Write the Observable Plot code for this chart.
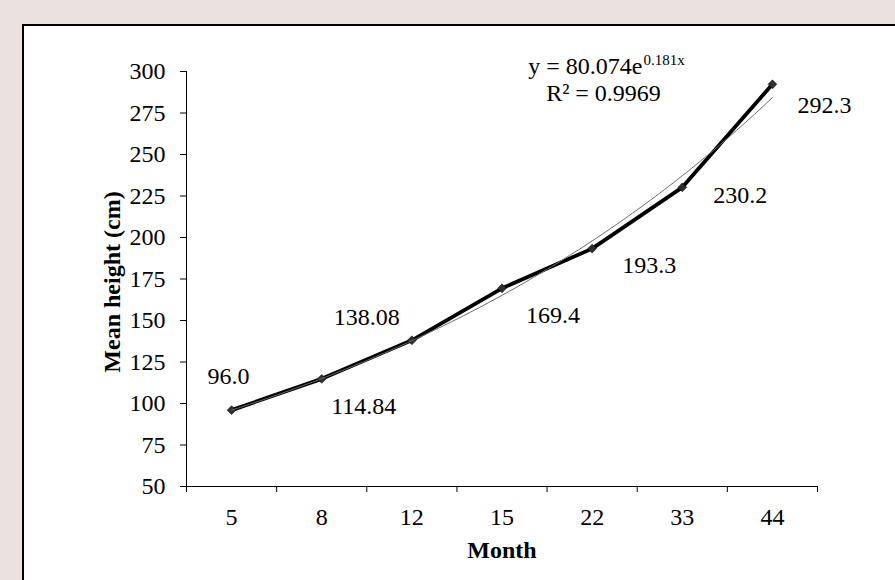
<!DOCTYPE html>
<html>
<head>
<meta charset="utf-8">
<script src="https://cdn.jsdelivr.net/npm/d3@7"></script>
<script src="https://cdn.jsdelivr.net/npm/@observablehq/plot@0.6"></script>
<style>
  html, body { margin: 0; padding: 0; width: 895px; height: 580px; overflow: hidden; background: #ece1e1; }
  #panel { position: absolute; left: 22px; top: 24px; width: 900px; height: 600px; background: #fff; border: 2px solid #000; }
  #chart { position: absolute; left: 0; top: 0; }
</style>
</head>
<body>
<div id="panel"></div>
<div id="chart"></div>
<script>
// Data
const months = ["5", "8", "12", "15", "22", "33", "44"];
const heights = [96.0, 114.84, 138.08, 169.4, 193.3, 230.2, 292.3];
const valueLabels = ["96.0", "114.84", "138.08", "169.4", "193.3", "230.2", "292.3"];
const yTicks = [50, 75, 100, 125, 150, 175, 200, 225, 250, 275, 300];
// Exponential trendline shown on the chart: y = 80.074 e^(0.181 x), x = category index
const trendA = 80.074;
const trendB = 0.181;
const equationMain = "y = 80.074e";
const equationExp = "0.181x";
const rSquaredText = "R\u00B2 = 0.9969";
const xTitle = "Month";
const yTitle = "Mean height (cm)";

// Styling: label offsets (px) relative to each point
const labelOffsets = [[-3, -34], [42, 27], [-45, -23], [51, 27], [57, 17], [58, 8], [52, 21]];

const data = months.map((m, i) => ({i: i + 1, month: m, h: heights[i], label: valueLabels[i]}));
const idx = data.map(d => d.i);
const boundaries = d3.range(0, months.length + 1).map(k => k + 0.5);
const trend = d3.range(1, months.length + 0.001, 0.05).map(x => ({x, y: trendA * Math.exp(trendB * x)}));

const FS = 24;
const labelMarks = data.map((d, k) => Plot.text([d], {
  x: "i", y: "h", text: "label",
  dx: labelOffsets[k][0], dy: labelOffsets[k][1],
  fontSize: FS, lineAnchor: "middle", textAnchor: "middle", fill: "#000"
}));

const chart = Plot.plot({
  width: 895,
  height: 580,
  marginLeft: 186,
  marginRight: 78,
  marginTop: 71,
  marginBottom: 94,
  style: {background: "transparent", fontFamily: "'Liberation Serif', 'Times New Roman', serif", fontSize: FS + "px", color: "#000"},
  x: {type: "linear", domain: [0.5, months.length + 0.5], axis: null},
  y: {domain: [50, 300], axis: null},
  marks: [
    Plot.ruleY([50], {stroke: "#000", strokeWidth: 1}),
    Plot.ruleX([0.5], {stroke: "#000", strokeWidth: 1}),
    Plot.axisY(yTicks, {tickSize: 6, tickPadding: 15, fontSize: FS, label: null, stroke: "#000"}),
    Plot.axisX(boundaries, {tickSize: 6, tickFormat: () => "", label: null, stroke: "#000"}),
    Plot.axisX(idx, {tickSize: 0, tickPadding: 21, tickFormat: i => months[i - 1], fontSize: FS, label: null}),
    Plot.line(data, {x: "i", y: "h", stroke: "#000", strokeWidth: 3.8}),
    Plot.dot(data, {x: "i", y: "h", symbol: "diamond2", r: 4, fill: "#2e2e2e", stroke: "#000", strokeWidth: 0.5}),
    Plot.line(trend, {x: "x", y: "y", stroke: "#6a6a6a", strokeWidth: 1}),
    ...labelMarks,
    Plot.text([equationMain], {frameAnchor: "top-left", dx: 456, dy: -5, textAnchor: "end", lineAnchor: "middle", fontSize: FS, fill: "#000"}),
    Plot.text([equationExp], {frameAnchor: "top-left", dx: 457, dy: -11, textAnchor: "start", lineAnchor: "middle", fontSize: 15, fill: "#000"}),
    Plot.text([rSquaredText], {frameAnchor: "top-left", dx: 417, dy: 22, textAnchor: "middle", lineAnchor: "middle", fontSize: FS, fill: "#000"}),
    Plot.text([xTitle], {frameAnchor: "bottom", dy: 64, textAnchor: "middle", lineAnchor: "middle", fontSize: FS, fontWeight: "bold", fill: "#000"}),
    Plot.text([yTitle], {frameAnchor: "left", dx: -74, dy: 3, rotate: -90, textAnchor: "middle", lineAnchor: "middle", fontSize: FS, fontWeight: "bold", fill: "#000"})
  ]
});
document.getElementById("chart").appendChild(chart);
</script>
</body>
</html>
